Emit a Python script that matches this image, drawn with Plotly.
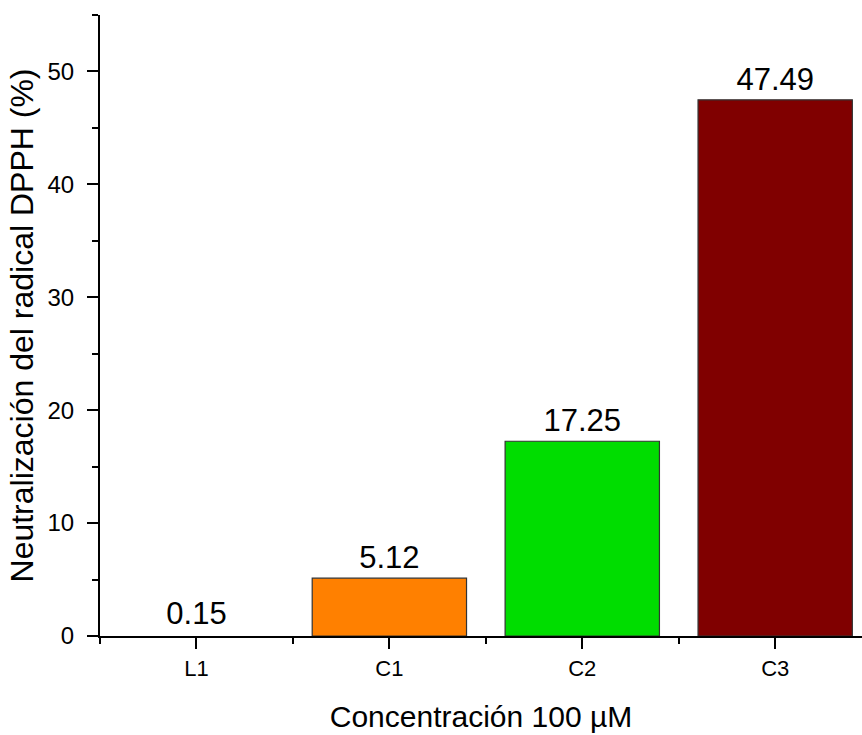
import plotly.graph_objects as go

# Antioxidant activity at 100 µM
categories = ["L1", "C1", "C2", "C3"]
neutralization = [0.15, 5.12, 17.25, 47.49]
bar_colors = ["#FFFFFF", "#FF8000", "#00DD00", "#800000"]
outline_widths = [0, 1.2, 1.2, 1.2]
y_ticks = [0, 10, 20, 30, 40, 50]
y_minor_ticks = [5, 15, 25, 35, 45, 55]

positions = list(range(len(categories)))
x_minor_ticks = [p - 0.5 for p in positions]
FONT = "Liberation Sans, Arial, sans-serif"

fig = go.Figure(
    go.Bar(
        x=positions,
        y=neutralization,
        width=0.8,
        marker=dict(color=bar_colors, line=dict(color="#333333", width=outline_widths)),
        text=[f"{v:.2f}" for v in neutralization],
        textposition="outside",
        textfont=dict(family=FONT, size=31, color="black"),
        cliponaxis=False,
    )
)

axis_common = dict(
    showline=True,
    linecolor="black",
    linewidth=2,
    ticks="outside",
    ticklen=11,
    tickwidth=2,
    tickcolor="black",
    showgrid=False,
    zeroline=False,
    layer="above traces",
)

minor_style = dict(ticks="outside", ticklen=6, tickwidth=2, tickcolor="black")

fig.update_layout(
    width=862,
    height=735,
    margin=dict(l=100, r=0, t=15, b=99),
    paper_bgcolor="white",
    plot_bgcolor="white",
    showlegend=False,
    xaxis=dict(
        **axis_common,
        range=[-0.5, 3.45],
        tickmode="array",
        tickvals=positions,
        ticktext=categories,
        tickfont=dict(family=FONT, size=22, color="black"),
        ticklabelstandoff=1,
        minor=dict(tickmode="array", tickvals=x_minor_ticks, **minor_style),
        title=dict(
            text="Concentración 100 µM",
            font=dict(family=FONT, size=30, color="black"),
            standoff=26,
        ),
    ),
    yaxis=dict(
        **axis_common,
        range=[0, 55],
        tickmode="array",
        tickvals=y_ticks,
        tickfont=dict(family=FONT, size=24, color="black"),
        ticklabelstandoff=8,
        minor=dict(tickmode="array", tickvals=y_minor_ticks, **minor_style),
        title=dict(
            text="Neutralización del radical DPPH (%)",
            font=dict(family=FONT, size=32, color="black"),
            standoff=4,
        ),
    ),
)

fig.write_html("out.html")
